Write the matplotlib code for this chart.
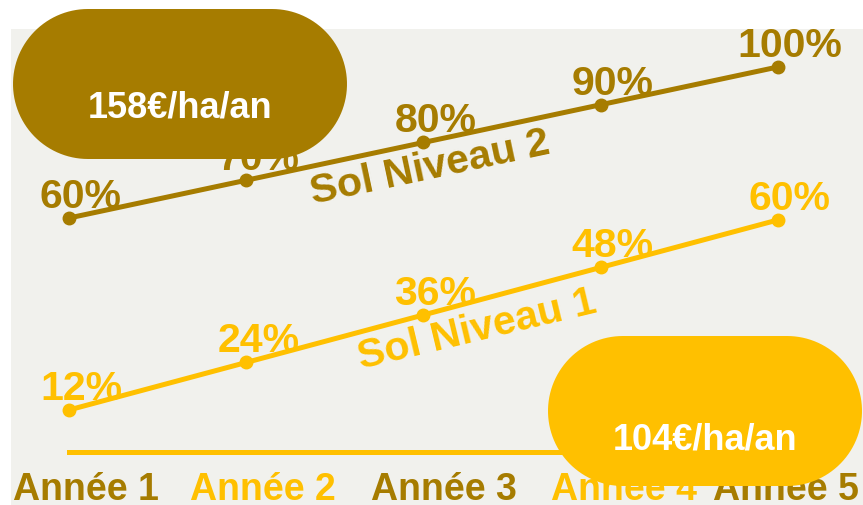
import matplotlib
matplotlib.use("Agg")
import matplotlib.pyplot as plt
import numpy as np
from matplotlib.patches import Polygon, Rectangle
from matplotlib import transforms

# Données
annees = ["Année 1", "Année 2", "Année 3", "Année 4", "Année 5"]
sol_niveau_1 = [12, 24, 36, 48, 60]
sol_niveau_2 = [60, 70, 80, 90, 100]
prix_niveau_1 = "104€/ha/an"
prix_niveau_2 = "158€/ha/an"

JAUNE = "#ffc000"
BRUN = "#a67c00"
FOND = "#f1f1ed"

plt.rcParams["font.family"] = ["Liberation Sans", "DejaVu Sans"]
plt.rcParams["font.weight"] = "bold"

W, H = 863, 506
fig = plt.figure(figsize=(W / 100, H / 100), dpi=100)
fig.patch.set_facecolor("white")


def pastille(x0, y0, w, h, couleur):
    """Forme 'stade' (bords entièrement arrondis), en pixels."""
    r = h / 2
    t = np.linspace(-np.pi / 2, np.pi / 2, 60)
    droite = np.column_stack([x0 + w - r + r * np.cos(t), y0 + r + r * np.sin(t)])
    gauche = np.column_stack([x0 + r - r * np.cos(t), y0 + r - r * np.sin(t)])
    pts = np.vstack([droite, gauche])
    return Polygon(pts, closed=True, facecolor=couleur, edgecolor="none",
                   transform=transforms.IdentityTransform(), zorder=10)


# fond gris
fig.patches.append(Rectangle((11 / W, 0), 1 - 11 / W, (H - 30) / H,
                             transform=fig.transFigure, facecolor=FOND,
                             edgecolor="none", zorder=-10))

ax1 = fig.add_axes([0, 0, 1, 1])
ax2 = ax1.twinx()
for ax in (ax1, ax2):
    ax.set_axis_off()
    ax.patch.set_visible(False)
    ax.set_xlim(-0.389, 4.48)
ax1.set_ylim(-12.0, 115.8)
ax2.set_ylim(-16.0, 118.0)

x = list(range(len(annees)))

ax1.plot(x, sol_niveau_1, color=JAUNE, lw=3.6, marker="o", ms=9, zorder=3)
ax2.plot(x, sol_niveau_2, color=BRUN, lw=3.6, marker="o", ms=9, zorder=3)

# ligne de base
ax1.plot([0, 4], [1.4, 1.4], color=JAUNE, lw=3.6, zorder=2)

for xi, v in zip(x, sol_niveau_1):
    ax1.annotate(f"{v}%", (xi, v), xytext=(12, 11), textcoords="offset pixels",
                 ha="center", va="baseline", fontsize=29.5, color=JAUNE,
                 fontweight="bold", zorder=4)
for xi, v in zip(x, sol_niveau_2):
    ax2.annotate(f"{v}%", (xi, v), xytext=(12, 11), textcoords="offset pixels",
                 ha="center", va="baseline", fontsize=29.5, color=BRUN,
                 fontweight="bold", zorder=4)

fig.text(430 / W, 1 - 168 / H, "Sol Niveau 2", color=BRUN, fontsize=29.5,
         fontweight="bold", rotation=12, ha="center", va="center",
         rotation_mode="anchor")
fig.text(477 / W, 1 - 330 / H, "Sol Niveau 1", color=JAUNE, fontsize=29.5,
         fontweight="bold", rotation=13.5, ha="center", va="center",
         rotation_mode="anchor")

# étiquettes des années
trans = transforms.blended_transform_factory(ax1.transData, fig.transFigure)
decalages = [17, 17, 21, 23, 8]
for i, lab in enumerate(annees):
    c = BRUN if i % 2 == 0 else JAUNE
    decal = transforms.ScaledTranslation(decalages[i] / 100, 0, fig.dpi_scale_trans)
    ax1.text(i, 6 / H, lab, transform=trans + decal, ha="center", va="baseline",
             fontsize=27, fontweight="bold", color=c, zorder=4)

# pastilles de prix (en pixels)
fig.patches.append(pastille(13, H - 160, 334, 150, BRUN))
fig.patches.append(pastille(548, H - 487, 314, 150, JAUNE))
fig.text(180 / W, 1 - 108 / H, prix_niveau_2, color="white", fontsize=26,
         fontweight="bold", ha="center", va="center", zorder=11)
fig.text(705 / W, 1 - 440 / H, prix_niveau_1, color="white", fontsize=26,
         fontweight="bold", ha="center", va="center", zorder=11)

fig.savefig("out.png", dpi=100)
